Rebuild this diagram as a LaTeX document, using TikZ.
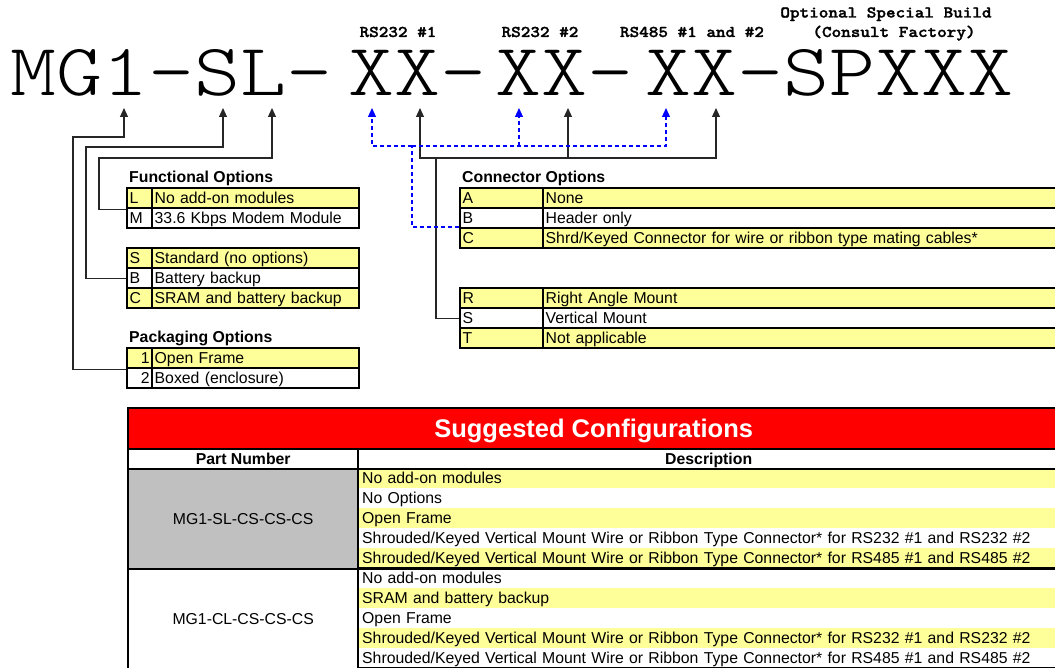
\documentclass[tikz,border=0pt]{standalone}
\usepackage{fontspec}
\setmainfont{Liberation Sans}
\newfontfamily\pnfont{lmmonolt10-regular}[Extension=.otf, FakeStretch=1.184]
\newfontfamily\pnbold{lmmonolt10-bold}[Extension=.otf, FakeStretch=1.115, FakeBold=1.6]
\usetikzlibrary{arrows.meta}
\definecolor{lyel}{RGB}{255,255,153}
\definecolor{cgray}{RGB}{192,192,192}
\definecolor{hred}{RGB}{255,0,0}

\begin{document}
\begin{tikzpicture}[x=1pt,y=-1pt,
  bigpn/.style={font=\fontsize{74}{80}\selectfont\pnfont, inner sep=0pt, text height=45pt, text depth=0pt, anchor=base},
  pnlbl/.style={font=\fontsize{16.4}{18}\selectfont\pnbold, inner sep=0pt, anchor=base},
  ttl/.style={font=\fontsize{15.8}{18}\selectfont\bfseries, inner sep=0pt, anchor=base west},
  cell/.style={draw, line width=2.4pt, fill=white, anchor=north west, minimum height=20pt, text width=#1, inner xsep=2.5pt, inner ysep=0pt, text height=12pt, text depth=1pt, align=left, font=\fontsize{15.8}{18}\selectfont},
  numcell/.style={cell=#1, align=right},
  srow/.style={anchor=north west, minimum height=20pt, text width=691pt, inner xsep=5pt, inner ysep=0pt, text height=12pt, text depth=1pt, align=left, font=\fontsize{15.8}{18}\selectfont},
  pcell/.style={draw, line width=2.4pt, anchor=north west, minimum width=230pt, minimum height=100pt, inner sep=0pt, font=\fontsize{15.8}{18}\selectfont},
  hcell/.style={draw, line width=2.4pt, fill=white, anchor=north west, minimum height=20pt, inner sep=0pt, text height=12pt, text depth=1pt, font=\fontsize{15.8}{18}\selectfont\bfseries},
  shead/.style={draw, line width=2.4pt, fill=hred, text=white, anchor=north west, minimum width=931pt, minimum height=41pt, inner sep=0pt, text height=18pt, text depth=0pt, font=\fontsize{25.5}{28}\selectfont\bfseries},
  conn/.style={line width=1.1pt, black!85},
  dconn/.style={line width=1.1pt, blue, dash pattern=on 4pt off 3pt},
  tip/.style={-{Triangle[length=9pt,width=8pt]}}]
\useasboundingbox (0,0) rectangle (1055,668);
\clip (0,0) rectangle (1055,668);
\node[bigpn] (pnA) at (171.5,96) {MG1-SL-};
\node[bigpn] (pnB) at (417,96) {XX-};
\node[bigpn] (pnC) at (564,96) {XX-};
\node[bigpn] (pnD) at (829.5,96) {XX-SPXXX};
\node[pnlbl] (lblRa) at (398,37) {RS232 \#1};
\node[pnlbl] (lblRb) at (540,37) {RS232 \#2};
\node[pnlbl] (lblRc) at (692,37) {RS485 \#1 and \#2};
\node[pnlbl] (lblSp) at (886,17.5) {Optional Special Build};
\node[pnlbl] (lblCf) at (894,37) {(Consult Factory)};
\coordinate (t1) at (124,108);
\coordinate (tS) at (223,108);
\coordinate (tL) at (272,108);
\coordinate (tD1) at (372,108);
\coordinate (tX1) at (420,108);
\coordinate (tD2) at (519,108);
\coordinate (tX2) at (568,108);
\coordinate (tD3) at (666,108);
\coordinate (tX3) at (716,108);
\node[ttl] (ttlF) at (129,183) {Functional Options};
\node[cell=20pt, fill=lyel] (fLk) at (126,187) {L};
\node[cell=202pt, fill=lyel] (fLd) at (151,187) {No add-on modules};
\node[cell=20pt] (fMk) at (126,207) {M};
\node[cell=202pt] (fMd) at (151,207) {33.6 Kbps Modem Module};
\node[cell=20pt, fill=lyel] (fSk) at (126,247) {S};
\node[cell=202pt, fill=lyel] (fSd) at (151,247) {Standard (no options)};
\node[cell=20pt] (fBk) at (126,267) {B};
\node[cell=202pt] (fBd) at (151,267) {Battery backup};
\node[cell=20pt, fill=lyel] (fCk) at (126,287) {C};
\node[cell=202pt, fill=lyel] (fCd) at (151,287) {SRAM and battery backup};
\node[ttl] (ttlP) at (129,343) {Packaging Options};
\node[numcell=20pt, fill=lyel] (p1k) at (126,347) {1};
\node[cell=202pt, fill=lyel] (p1d) at (151,347) {Open Frame};
\node[numcell=20pt] (p2k) at (126,367) {2};
\node[cell=202pt] (p2d) at (151,367) {Boxed (enclosure)};
\node[ttl] (ttlC) at (462,183) {Connector Options};
\node[cell=78pt, fill=lyel] (cAk) at (459,187) {A};
\node[cell=515pt, fill=lyel] (cAd) at (542,187) {None};
\node[cell=78pt] (cBk) at (459,207) {B};
\node[cell=515pt] (cBd) at (542,207) {Header only};
\node[cell=78pt, fill=lyel] (cCk) at (459,227) {C};
\node[cell=515pt, fill=lyel] (cCd) at (542,227) {Shrd/Keyed Connector for wire or ribbon type mating cables*};
\node[cell=78pt, fill=lyel] (cRk) at (459,287) {R};
\node[cell=515pt, fill=lyel] (cRd) at (542,287) {Right Angle Mount};
\node[cell=78pt] (cSk) at (459,307) {S};
\node[cell=515pt] (cSd) at (542,307) {Vertical Mount};
\node[cell=78pt, fill=lyel] (cTk) at (459,327) {T};
\node[cell=515pt, fill=lyel] (cTd) at (542,327) {Not applicable};
\node[srow, fill=lyel] (sD1) at (357,468) {No add-on modules};
\node[srow, fill=white] (sD2) at (357,488) {No Options};
\node[srow, fill=lyel] (sD3) at (357,508) {Open Frame};
\node[srow, fill=white] (sD4) at (357,528) {Shrouded/Keyed Vertical Mount Wire or Ribbon Type Connector* for RS232 \#1 and RS232 \#2};
\node[srow, fill=lyel] (sD5) at (357,548) {Shrouded/Keyed Vertical Mount Wire or Ribbon Type Connector* for RS485 \#1 and RS485 \#2};
\node[srow, fill=white] (sD6) at (357,568) {No add-on modules};
\node[srow, fill=lyel] (sD7) at (357,588) {SRAM and battery backup};
\node[srow, fill=white] (sD8) at (357,608) {Open Frame};
\node[srow, fill=lyel] (sD9) at (357,628) {Shrouded/Keyed Vertical Mount Wire or Ribbon Type Connector* for RS232 \#1 and RS232 \#2};
\node[srow, fill=white] (sD10) at (357,648) {Shrouded/Keyed Vertical Mount Wire or Ribbon Type Connector* for RS485 \#1 and RS485 \#2};
\draw[line width=2.4pt] (sD1.north west) rectangle (sD5.south east);
\draw[line width=2.4pt] (sD6.north west) rectangle (sD10.south east);
\node[pcell, fill=cgray] (sP1) at (127,468) {MG1-SL-CS-CS-CS};
\node[pcell, fill=white] (sP2) at (127,568) {MG1-CL-CS-CS-CS};
\node[shead] (sHead) at (127,407) {Suggested Configurations};
\node[hcell, minimum width=230pt] (hPart) at (127,448) {Part Number};
\node[hcell, minimum width=701pt] (hDesc) at (357,448) {Description};
\draw[conn, tip] (p1k.south west) -| (73,137) -| (t1);
\draw[conn, tip] (fBk.west) -| (86,147) -| (tS);
\draw[conn, tip] (fLk.south west) -| (99,158) -| (tL);
\coordinate (jX) at (436,158);
\draw[conn] (cSk.west) -| (jX);
\draw[conn, tip] (jX) -| (tX1);
\draw[conn, tip] (jX) -| (tX3);
\draw[conn, tip] (tX2 |- jX) -- (tX2);
\coordinate (jD) at (412,146);
\draw[dconn] (cCk.north west) -| (jD);
\draw[dconn, tip] (jD) -| (tD1);
\draw[dconn, tip] (jD) -| (tD3);
\draw[dconn, tip] (tD2 |- jD) -- (tD2);
\end{tikzpicture}
\end{document}
